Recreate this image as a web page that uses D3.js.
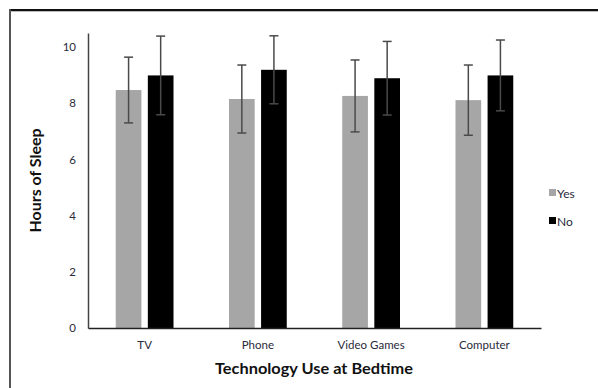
<!DOCTYPE html>
<html>
<head>
<meta charset="utf-8">
<script src="https://cdn.jsdelivr.net/npm/d3@7"></script>
<style>
  html, body { margin: 0; padding: 0; background: #fff; }
  svg { display: block; }
  text { font-family: Lato, "Open Sans", "Liberation Sans", sans-serif; }
</style>
</head>
<body>
<svg id="chart" width="598" height="388"></svg>
<script>
// Hours of sleep by technology used at bedtime (mean ± SD)
const categories = ["TV", "Phone", "Video Games", "Computer"];
const seriesNames = ["Yes", "No"];
const yesMeans = [8.47, 8.15, 8.26, 8.11];
const yesErrors = [1.17, 1.21, 1.28, 1.25];
const noMeans = [8.99, 9.19, 8.89, 8.99];
const noErrors = [1.40, 1.21, 1.31, 1.26];
const yTicks = [0, 2, 4, 6, 8, 10];
const seriesColors = ["#a6a6a6", "#000000"];

const svg = d3.select("#chart");

// frame lines (top and left edges)
svg.append("line").attr("x1", 10).attr("x2", 598).attr("y1", 10).attr("y2", 10)
  .attr("stroke", "#111").attr("stroke-width", 2);
svg.append("line").attr("x1", 10).attr("x2", 598).attr("y1", 11.5).attr("y2", 11.5)
  .attr("stroke", "#bbb").attr("stroke-width", 1);
svg.append("line").attr("x1", 10).attr("x2", 10).attr("y1", 9).attr("y2", 388)
  .attr("stroke", "#555").attr("stroke-width", 2);

const plot = { left: 88, right: 541, top: 33, bottom: 328 };

const x0 = d3.scaleBand()
  .domain(categories)
  .range([plot.left, plot.right])
  .paddingInner(0.49)
  .paddingOuter(0.245);

const x1 = d3.scaleBand()
  .domain(seriesNames)
  .range([0, x0.bandwidth()])
  .paddingInner(0.2);

const y = d3.scaleLinear()
  .domain([0, 10.5])
  .range([plot.bottom, plot.top]);

const rows = categories.map((c, i) => ({
  category: c,
  values: [
    { series: "Yes", mean: yesMeans[i], err: yesErrors[i] },
    { series: "No", mean: noMeans[i], err: noErrors[i] }
  ]
}));

const color = d3.scaleOrdinal().domain(seriesNames).range(seriesColors);

// bars
const groups = svg.append("g").selectAll("g")
  .data(rows)
  .join("g")
  .attr("transform", d => `translate(${x0(d.category)},0)`);

groups.selectAll("rect")
  .data(d => d.values)
  .join("rect")
  .attr("x", d => x1(d.series))
  .attr("width", x1.bandwidth())
  .attr("y", d => y(d.mean))
  .attr("height", d => y(0) - y(d.mean))
  .attr("fill", d => color(d.series));

// error bars
const capHalf = 4.5;
const eb = groups.selectAll("g.err")
  .data(d => d.values)
  .join("g")
  .attr("class", "err")
  .attr("stroke", "#4a4a4a")
  .attr("stroke-width", 1.5);

eb.append("line")
  .attr("x1", d => x1(d.series) + x1.bandwidth() / 2)
  .attr("x2", d => x1(d.series) + x1.bandwidth() / 2)
  .attr("y1", d => y(d.mean + d.err))
  .attr("y2", d => y(d.mean - d.err));
eb.append("line")
  .attr("x1", d => x1(d.series) + x1.bandwidth() / 2 - capHalf)
  .attr("x2", d => x1(d.series) + x1.bandwidth() / 2 + capHalf)
  .attr("y1", d => y(d.mean + d.err))
  .attr("y2", d => y(d.mean + d.err));
eb.append("line")
  .attr("x1", d => x1(d.series) + x1.bandwidth() / 2 - capHalf)
  .attr("x2", d => x1(d.series) + x1.bandwidth() / 2 + capHalf)
  .attr("y1", d => y(d.mean - d.err))
  .attr("y2", d => y(d.mean - d.err));

// y axis
const yAxis = svg.append("g")
  .attr("transform", `translate(${plot.left},0)`)
  .call(d3.axisLeft(y).tickValues(yTicks).tickSize(0).tickPadding(12).tickFormat(d3.format("d")));
yAxis.select(".domain").attr("stroke", "#444").attr("stroke-width", 1.5);
yAxis.selectAll("text").attr("font-size", 11.5).attr("fill", "#2a2a3a")
  .attr("font-family", "Lato, 'Open Sans', sans-serif");

// x axis
const xAxis = svg.append("g")
  .attr("transform", `translate(0,${plot.bottom})`)
  .call(d3.axisBottom(x0).tickSize(0).tickPadding(13));
xAxis.select(".domain").attr("stroke", "#222").attr("stroke-width", 1.5);
xAxis.selectAll("text").attr("font-size", 11.5).attr("fill", "#2a2a3a")
  .attr("font-family", "Lato, 'Open Sans', sans-serif");

// axis titles
svg.append("text")
  .attr("x", 314)
  .attr("y", 374)
  .attr("text-anchor", "middle")
  .attr("font-size", 15.5)
  .attr("font-weight", "bold")
  .attr("fill", "#111")
  .attr("textLength", 198)
  .attr("lengthAdjust", "spacingAndGlyphs")
  .text("Technology Use at Bedtime");

svg.append("text")
  .attr("transform", "translate(40.5,180.5) rotate(-90)")
  .attr("text-anchor", "middle")
  .attr("font-size", 14.5)
  .attr("font-weight", "bold")
  .attr("fill", "#111")
  .attr("textLength", 104)
  .attr("lengthAdjust", "spacingAndGlyphs")
  .text("Hours of Sleep");

// legend
const legend = svg.append("g").selectAll("g")
  .data(seriesNames)
  .join("g")
  .attr("transform", (d, i) => `translate(549,${189 + i * 28})`);
legend.append("rect")
  .attr("width", 7).attr("height", 7)
  .attr("fill", d => color(d));
legend.append("text")
  .attr("x", 8).attr("y", 9)
  .attr("font-size", 12)
  .attr("fill", "#2a2a3a")
  .text(d => d);
</script>
</body>
</html>
